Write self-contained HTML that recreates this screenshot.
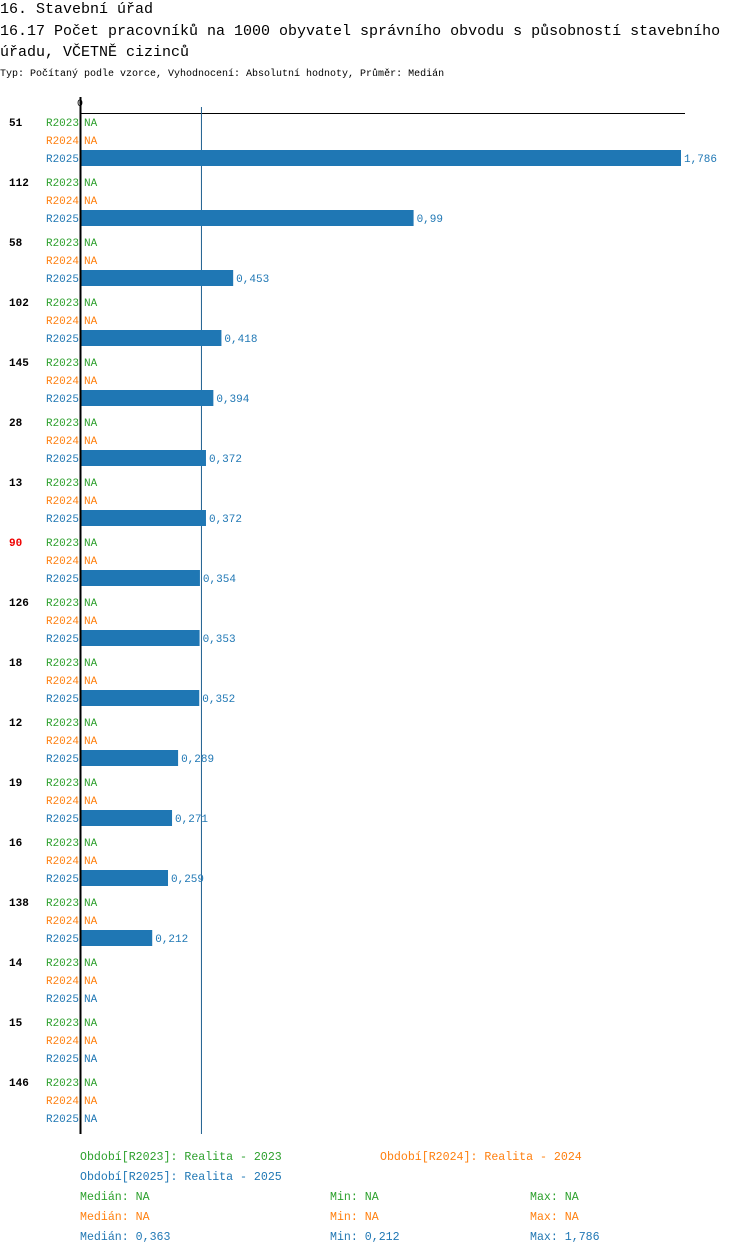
<!DOCTYPE html>
<html><head><meta charset="utf-8"><style>
body{margin:0;background:#fff;font-family:"Liberation Mono",monospace;}
svg text{font-family:"Liberation Mono",monospace;}
</style></head><body>
<svg width="750" height="1254" xmlns="http://www.w3.org/2000/svg">
<text x="0" y="13" font-size="15">16. Stavební úřad</text>
<text x="0" y="35" font-size="15">16.17 Počet pracovníků na 1000 obyvatel správního obvodu s působností stavebního</text>
<text x="0" y="56" font-size="15">úřadu, VČETNĚ cizinců</text>
<text x="0" y="76" font-size="10">Typ: Počítaný podle vzorce, Vyhodnocení: Absolutní hodnoty, Průměr: Medián</text>
<g id="plot"></g>
<g id="legend" font-size="11.6">
<text x="80" y="1160" fill="#2ca02c">Období[R2023]: Realita - 2023</text>
<text x="380" y="1160" fill="#ff7f0e">Období[R2024]: Realita - 2024</text>
<text x="80" y="1180" fill="#1f77b4">Období[R2025]: Realita - 2025</text>
<text x="80" y="1200" fill="#2ca02c">Medián: NA</text>
<text x="330" y="1200" fill="#2ca02c">Min: NA</text>
<text x="530" y="1200" fill="#2ca02c">Max: NA</text>
<text x="80" y="1220" fill="#ff7f0e">Medián: NA</text>
<text x="330" y="1220" fill="#ff7f0e">Min: NA</text>
<text x="530" y="1220" fill="#ff7f0e">Max: NA</text>
<text x="80" y="1240" fill="#1f77b4">Medián: 0,363</text>
<text x="330" y="1240" fill="#1f77b4">Min: 0,212</text>
<text x="530" y="1240" fill="#1f77b4">Max: 1,786</text>
</g>
</svg>
<script>
const categories=["51","112","58","102","145","28","13","90","126","18","12","19","16","138","14","15","146"];
const values2025=[1.786,0.99,0.453,0.418,0.394,0.372,0.372,0.354,0.353,0.352,0.289,0.271,0.259,0.212,null,null,null];
const highlight=["90"];
const medianValue=0.363;
const NS="http://www.w3.org/2000/svg";
const g=document.getElementById('plot');
const x0=81, pxPerUnit=600/1.786;
const xs=v=>x0+v*pxPerUnit;
const groupY=i=>114+60*i;
function mk(tag,attrs,txt){const e=document.createElementNS(NS,tag);for(const k in attrs)e.setAttribute(k,attrs[k]);if(txt!=null)e.textContent=txt;g.appendChild(e);return e;}
const bottom=groupY(categories.length);
let l=mk('line',{x1:80,y1:113.5,x2:685,y2:113.5,stroke:'#000','stroke-width':1});


let t=mk('text',{x:80,y:106,'font-size':10,'text-anchor':'middle'},'0');


let m=mk('line',{x1:xs(medianValue)-1.5,y1:107,x2:xs(medianValue)-1.5,y2:bottom,stroke:'#1f5f8f','stroke-width':1});


const cols=['#2ca02c','#ff7f0e','#1f77b4'];const names=['R2023','R2024','R2025'];
categories.forEach((c,i)=>{
 const y=groupY(i);
 const lab=mk('text',{x:9,y:y+12,'font-size':11,'font-weight':'bold',fill:highlight.includes(c)?'#e00':'#000'},c);
 
 
 for(let s=0;s<3;s++){
  const cy=y+12+18*s;
  const sl=mk('text',{x:79,y:cy,'font-size':11,fill:cols[s],'text-anchor':'end'},names[s]);
  
  
  const v=s===2?values2025[i]:null;
  if(v==null){
   const na=mk('text',{x:84,y:cy,'font-size':11,fill:cols[s]},'NA');
   
   
  }else{
   const b=mk('rect',{x:x0,y:y+36,width:xs(v)-x0,height:16,fill:'#1f77b4'});
   
   
   const vl=mk('text',{x:xs(v)+3,y:cy,'font-size':11,fill:'#1f77b4'},String(v).replace('.',','));
   
   
  }
 }
});
let ax=mk('line',{x1:80.5,y1:97,x2:80.5,y2:bottom,stroke:'#000','stroke-width':2});


</script>
</body></html>
